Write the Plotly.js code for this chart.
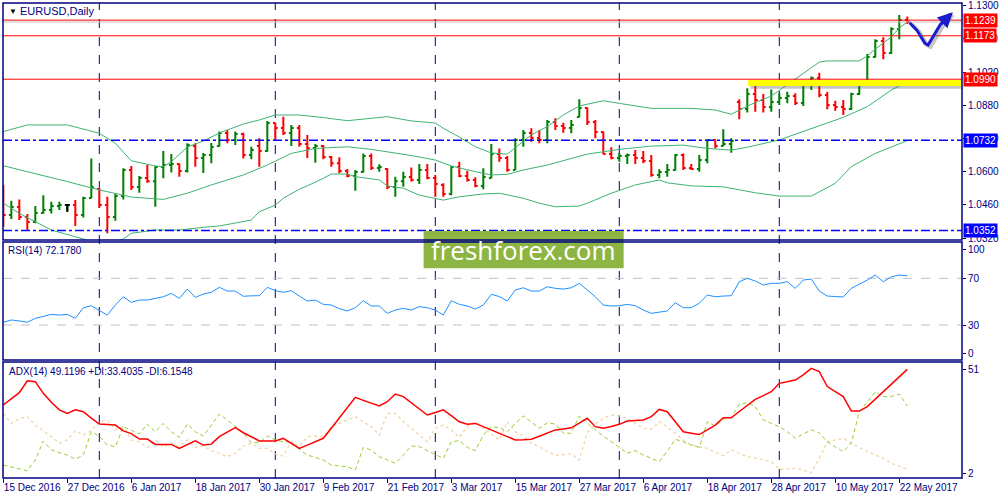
<!DOCTYPE html>
<html>
<head>
<meta charset="utf-8">
<script src="https://cdn.plot.ly/plotly-3.0.1.min.js"></script>
<style>
  body { margin: 0; background: #fff; }
  #chart { width: 1000px; height: 500px; }
</style>
</head>
<body>
<div id="chart"></div>
<script>
// EURUSD daily, 15 Dec 2016 .. 23 May 2017, one entry per bar
var open = [1.0501,1.0417,1.0451,1.0409,1.0388,1.0426,1.0438,1.0455,1.0459,1.0459,
  1.0417,1.0489,1.0527,1.0459,1.0409,1.0497,1.0607,1.0535,1.0573,1.0560,
  1.0620,1.0628,1.0632,1.0603,1.0708,1.0658,1.0670,1.0708,1.0763,1.0734,
  1.0759,1.0670,1.0708,1.0687,1.0805,1.0784,1.0763,1.0784,1.0717,1.0700,
  1.0708,1.0662,1.0636,1.0603,1.0582,1.0599,1.0666,1.0615,1.0611,1.0535,
  1.0560,1.0577,1.0565,1.0607,1.0573,1.0544,1.0506,1.0620,1.0582,1.0565,
  1.0540,1.0573,1.0674,1.0658,1.0607,1.0734,1.0763,1.0742,1.0734,1.0809,
  1.0793,1.0784,1.0831,1.0868,1.0809,1.0767,1.0674,1.0658,1.0666,1.0670,
  1.0658,1.0645,1.0586,1.0599,1.0607,1.0670,1.0615,1.0611,1.0649,1.0734,
  1.0708,1.0717,1.0894,1.0864,1.0928,1.0902,1.0873,1.0894,1.0911,1.0919,
  1.0890,1.0974,1.0995,1.0923,1.0881,1.0873,1.0864,1.0928,1.0978,1.1084,
  1.1151,1.1100,1.1202,1.1240];
var high = [1.0544,1.0477,1.0483,1.0421,1.0455,1.0501,1.0473,1.0473,1.0462,1.0480,
  1.0494,1.0656,1.0530,1.0494,1.0506,1.0614,1.0624,1.0582,1.0628,1.0624,
  1.0687,1.0674,1.0635,1.0720,1.0720,1.0679,1.0721,1.0769,1.0776,1.0769,
  1.0764,1.0705,1.0741,1.0814,1.0806,1.0832,1.0797,1.0797,1.0755,1.0717,
  1.0712,1.0666,1.0661,1.0611,1.0607,1.0677,1.0677,1.0631,1.0614,1.0579,
  1.0600,1.0618,1.0632,1.0632,1.0586,1.0551,1.0624,1.0642,1.0604,1.0576,
  1.0614,1.0717,1.0698,1.0666,1.0741,1.0776,1.0783,1.0776,1.0818,1.0825,
  1.0806,1.0818,1.0905,1.0871,1.0818,1.0769,1.0703,1.0680,1.0677,1.0691,
  1.0687,1.0670,1.0610,1.0632,1.0674,1.0677,1.0632,1.0670,1.0736,1.0736,
  1.0779,1.0741,1.0905,1.0952,1.0973,1.0928,1.0947,1.0931,1.0937,1.0931,
  1.0984,1.1001,1.1017,1.0937,1.0899,1.0902,1.0933,1.0987,1.1096,1.1158,
  1.1167,1.1209,1.1261,1.1254];
var low = [1.0368,1.0400,1.0396,1.0351,1.0382,1.0424,1.0424,1.0438,1.0431,1.0371,
  1.0407,1.0488,1.0448,1.0340,1.0393,1.0483,1.0523,1.0511,1.0553,1.0452,
  1.0572,1.0596,1.0579,1.0596,1.0621,1.0594,1.0636,1.0705,1.0720,1.0712,
  1.0656,1.0652,1.0621,1.0684,1.0731,1.0755,1.0708,1.0705,1.0658,1.0638,
  1.0652,1.0621,1.0593,1.0576,1.0520,1.0596,1.0607,1.0600,1.0526,1.0494,
  1.0536,1.0558,1.0548,1.0568,1.0494,1.0494,1.0501,1.0576,1.0558,1.0534,
  1.0526,1.0572,1.0642,1.0600,1.0607,1.0705,1.0726,1.0720,1.0720,1.0776,
  1.0764,1.0762,1.0829,1.0797,1.0741,1.0673,1.0652,1.0642,1.0632,1.0632,
  1.0635,1.0579,1.0572,1.0579,1.0604,1.0607,1.0607,1.0600,1.0635,1.0698,
  1.0708,1.0680,1.0821,1.0849,1.0853,1.0849,1.0853,1.0881,1.0888,1.0881,
  1.0877,1.0944,1.0914,1.0863,1.0857,1.0839,1.0860,1.0923,1.0975,1.1081,
  1.1074,1.1096,1.1158,1.1223];
var close = [1.0417,1.0451,1.0409,1.0388,1.0426,1.0438,1.0455,1.0459,1.0459,1.0417,
  1.0489,1.0535,1.0459,1.0409,1.0497,1.0607,1.0535,1.0573,1.0560,1.0620,
  1.0628,1.0632,1.0603,1.0712,1.0658,1.0670,1.0704,1.0763,1.0734,1.0759,
  1.0670,1.0691,1.0687,1.0805,1.0784,1.0763,1.0784,1.0717,1.0700,1.0708,
  1.0662,1.0636,1.0603,1.0582,1.0599,1.0666,1.0615,1.0620,1.0535,1.0560,
  1.0577,1.0565,1.0607,1.0573,1.0548,1.0506,1.0620,1.0582,1.0565,1.0540,
  1.0577,1.0674,1.0658,1.0607,1.0734,1.0763,1.0742,1.0734,1.0809,1.0793,
  1.0784,1.0797,1.0868,1.0809,1.0767,1.0674,1.0658,1.0666,1.0670,1.0658,
  1.0645,1.0586,1.0599,1.0607,1.0670,1.0615,1.0611,1.0649,1.0734,1.0708,
  1.0717,1.0729,1.0864,1.0928,1.0902,1.0873,1.0894,1.0911,1.0919,1.0890,
  1.0974,1.0995,1.0923,1.0881,1.0873,1.0864,1.0928,1.0978,1.1084,1.1151,
  1.1100,1.1202,1.1240,1.1231];

// Bollinger bands, read at the bars listed
var bbUpIdx = [0,3,8,10,12,14,16,19,20,21,23,25,27,30,32,34,37,40,43,46,48,51,54,55,57,
  59,61,63,65,66,68,70,72,75,77,81,86,89,91,93,96,99,102,103,107,108,109,111,112,113];
var bbUp = [1.0769,1.0797,1.0797,1.0779,1.0762,1.0720,1.0646,1.0624,1.0621,1.0642,
  1.0704,1.0729,1.0763,1.0801,1.0818,1.0839,1.0839,1.0828,1.0815,1.0825,
  1.0832,1.0814,1.0805,1.0783,1.0746,1.0705,1.0679,1.0674,1.0729,1.0755,
  1.0790,1.0839,1.0877,1.0899,1.0888,1.0867,1.0867,1.0860,1.0842,1.0877,
  1.0919,1.0991,1.1062,1.1067,1.1067,1.1088,1.1117,1.1168,1.1206,1.1231];
var bbMidIdx = [0,4,8,12,16,20,23,26,30,33,36,39,43,46,48,51,54,56,59,61,63,65,68,72,73,
  77,81,85,88,91,93,97,100,103,105,108,111,113];
var bbMid = [1.0625,1.0593,1.0558,1.0523,1.0493,1.0483,1.0509,1.0544,1.0586,1.0628,
  1.0677,1.0698,1.0705,1.0694,1.0684,1.0668,1.0649,1.0624,1.0600,1.0586,
  1.0589,1.0607,1.0628,1.0666,1.0674,1.0694,1.0708,1.0712,1.0698,1.0691,
  1.0703,1.0734,1.0769,1.0805,1.0829,1.0874,1.0944,1.0979];
var bbLowIdx = [0,2,4,6,10,12,15,16,19,22,25,27,31,32,34,35,37,38,40,41,43,44,47,48,50,
  52,55,57,60,62,65,67,69,72,73,76,79,82,83,86,90,94,97,101,104,106,109,111,113];
var bbLow = [1.0467,1.0424,1.0389,1.0354,1.0316,1.0286,1.0316,1.0340,1.0354,1.0354,
  1.0365,1.0371,1.0396,1.0431,1.0459,1.0488,1.0526,1.0540,1.0572,1.0590,
  1.0590,1.0579,1.0565,1.0540,1.0530,1.0501,1.0480,1.0494,1.0506,1.0509,
  1.0488,1.0467,1.0452,1.0455,1.0467,1.0509,1.0544,1.0565,1.0553,1.0540,
  1.0536,1.0511,1.0497,1.0497,1.0551,1.0621,1.0677,1.0705,1.0731];

var rsi = [32.3,34.3,33.5,32.3,35.7,37.1,39.1,38.5,39.1,35.7,
  44.8,46.5,42.8,38.5,47.1,54.2,49.4,51.4,51.4,52.5,
  54.2,57.1,52.8,60.8,53.7,56.5,58.0,62.3,59.1,59.1,
  54.6,55.0,55.1,62.3,59.4,58.0,59.4,54.8,50.5,51.4,
  47.7,47.1,44.0,42.0,44.8,50.8,46.3,46.3,40.0,42.8,
  44.3,42.8,45.7,44.8,42.8,38.5,50.8,47.7,46.3,43.7,
  47.1,56.3,54.4,50.5,60.0,61.9,59.1,59.1,62.8,61.4,
  60.8,61.9,65.7,60.0,54.2,47.1,46.3,46.5,47.7,46.5,
  42.8,40.0,41.1,42.0,49.1,44.8,44.8,48.6,55.7,54.2,
  54.8,55.1,67.1,70.0,67.7,64.2,65.7,65.7,67.1,61.4,
  68.5,69.4,59.1,54.8,54.4,54.0,61.4,64.8,68.5,72.8,
  67.1,71.3,72.8,72.2];

var adx = [33.8,36.5,39.1,44.2,43.8,38.8,35.0,31.7,30.2,31.7,
  30.9,28.2,25.6,25.4,25.2,22.7,21.5,19.2,19.2,16.9,
  16.9,16.9,15.2,16.8,18.4,16.6,17.0,20.2,22.2,24.1,
  21.9,20.2,18.4,18.4,18.4,19.5,17.4,15.2,16.6,18.0,
  19.5,23.8,28.1,32.6,37.1,35.8,34.5,33.4,35.2,38.5,
  37.4,34.8,32.1,29.5,30.6,31.7,29.2,26.6,25.5,25.9,
  24.5,23.1,21.9,20.3,18.8,18.9,19.1,20.4,21.7,23.1,
  23.5,24.0,26.0,28.1,24.5,23.8,24.6,25.5,26.9,27.1,
  27.4,28.8,31.9,30.9,26.6,22.3,21.7,21.1,23.1,25.2,
  28.3,28.3,31.0,33.6,36.2,37.8,39.5,43.1,43.8,44.5,
  46.7,49.5,48.1,41.7,39.5,37.4,31.2,31.2,33.1,36.3,
  39.5,42.7,45.9,49.1];
var plusDI = [8.0,7.1,6.3,5.6,10.2,18.3,14.5,13.5,12.3,10.6,
  12.3,22.3,20.5,16.6,15.9,24.5,23.1,21.4,25.6,22.3,
  25.9,22.3,19.9,25.6,22.3,20.5,25.2,29.9,27.4,24.5,
  21.9,17.6,17.6,20.5,18.8,18.0,18.0,14.8,12.3,11.3,
  10.2,8.0,7.6,7.3,5.9,15.6,14.5,11.6,10.2,8.8,
  12.3,16.2,15.9,14.3,12.8,10.9,18.0,18.5,15.6,14.2,
  20.9,24.5,24.1,22.3,25.9,29.1,26.5,23.8,26.2,25.6,
  21.7,21.7,29.1,25.9,23.0,20.5,18.0,15.6,13.1,14.2,
  12.3,10.9,9.5,14.0,19.1,18.0,16.6,15.6,26.6,24.8,
  27.7,28.5,34.2,34.8,33.1,27.4,26.1,24.5,22.3,19.5,
  21.4,23.1,21.9,18.0,15.8,13.8,17.4,30.9,35.0,39.5,
  37.4,37.4,38.5,33.4];
var minusDI = [30.2,25.9,28.0,28.8,25.2,22.8,20.2,17.4,18.8,22.8,
  20.9,22.8,26.6,27.4,23.1,24.5,18.8,18.0,15.6,18.8,
  15.9,17.4,15.9,18.8,15.6,16.2,14.2,13.1,11.6,13.1,
  16.2,17.4,15.2,15.2,12.8,11.9,18.0,15.9,20.2,20.5,
  20.2,24.5,25.9,27.3,28.8,26.6,24.5,20.9,30.2,30.2,
  26.6,23.8,20.9,18.0,23.8,25.2,23.1,19.9,24.5,26.6,
  23.8,21.4,18.8,26.6,22.3,20.5,17.4,15.8,13.8,12.3,
  12.6,12.8,10.2,22.0,25.5,28.1,29.5,29.1,28.1,26.0,
  23.8,23.4,26.6,24.5,21.8,18.8,16.6,15.8,15.2,13.5,
  12.0,14.5,13.0,11.6,11.0,10.2,9.5,6.2,6.3,6.6,
  5.9,4.7,10.9,18.0,18.8,19.5,17.4,15.5,13.8,12.3,
  10.9,8.8,7.5,6.15];

// x axis labels every 8 bars, monthly separators
var dateTickIdx = [0,8,16,24,32,40,48,56,64,72,80,88,96,104,112];
var dateTickText = ['15 Dec 2016','27 Dec 2016','6 Jan 2017','18 Jan 2017','30 Jan 2017',
  '9 Feb 2017','21 Feb 2017','3 Mar 2017','15 Mar 2017','27 Mar 2017','6 Apr 2017',
  '18 Apr 2017','28 Apr 2017','10 May 2017','22 May 2017'];
var monthStartIdx = [12,34,54,77,97];

var priceTicks = [1.0320,1.0460,1.0600,1.0740,1.0880,1.1020,1.1160,1.1300];
var redLevels = [1.1239,1.1173,1.0990];
var blueLevels = [1.0732,1.0352];
var rsiLevels = [70,30];
var rsiTickVals = [95.1,70,30,5.7];
var rsiTickText = ['100','70','30','0'];
var adxTickVals = [49.2,4.6];
var adxTickText = ['51','2'];

var NAVY = '#000080';
var FONT = 'Liberation Sans, Arial, sans-serif';
var idx = close.map(function(_, i){ return i; });
var dojiIdx = idx.filter(function(i){ return open[i] === close[i]; });
var pick = function(arr){ return dojiIdx.map(function(i){ return arr[i]; }); };

var traces = [];
function band(xs, ys){
  traces.push({type:'scatter', mode:'lines', x:xs, y:ys, xaxis:'x', yaxis:'y',
    line:{color:'#3cb371', width:1}, hoverinfo:'skip'});
}
band(bbUpIdx, bbUp);
band(bbMidIdx, bbMid);
band(bbLowIdx, bbLow);

traces.push({type:'ohlc', x:idx, open:open, high:high, low:low, close:close,
  xaxis:'x', yaxis:'y', tickwidth:0.3,
  increasing:{line:{color:'#008000', width:2}},
  decreasing:{line:{color:'#ff0000', width:2}}});
traces.push({type:'ohlc', x:dojiIdx, open:pick(open), high:pick(high), low:pick(low), close:pick(close),
  xaxis:'x', yaxis:'y', tickwidth:0.3,
  increasing:{line:{color:'#000000', width:2}},
  decreasing:{line:{color:'#000000', width:2}}});

traces.push({type:'scatter', mode:'lines', x:idx, y:rsi, xaxis:'x', yaxis:'y2',
  line:{color:'#1e90ff', width:1}});

traces.push({type:'scatter', mode:'lines', x:idx, y:minusDI, xaxis:'x', yaxis:'y3',
  line:{color:'#f2d5a6', width:1.3, dash:'dot'}});
traces.push({type:'scatter', mode:'lines', x:idx, y:plusDI, xaxis:'x', yaxis:'y3',
  line:{color:'#9acd32', width:1, dash:'4px,3px'}});
traces.push({type:'scatter', mode:'lines', x:idx, y:adx, xaxis:'x', yaxis:'y3',
  line:{color:'#ff0000', width:1.5}});

// panel geometry (paper fractions)
var dMain = [0.501, 1], dRsi = [0.2484, 0.4968], dAdx = [0, 0.2442];
var last = close.length - 1;

var shapes = [];
monthStartIdx.forEach(function(m){
  shapes.push({type:'line', xref:'x', yref:'paper', x0:m, x1:m, y0:0, y1:1, layer:'below',
    line:{color:NAVY, width:1, dash:'dash'}});
});
shapes.push({type:'line', xref:'paper', yref:'y', x0:0, x1:1, y0:close[last], y1:close[last],
  line:{color:'#c0c0c0', width:1}});
redLevels.forEach(function(v){
  shapes.push({type:'line', xref:'paper', yref:'y', x0:0, x1:1, y0:v, y1:v,
    line:{color:'#ff0000', width:1}});
});
blueLevels.forEach(function(v){
  shapes.push({type:'line', xref:'paper', yref:'y', x0:0, x1:1, y0:v, y1:v,
    line:{color:'#0000ff', width:1.5, dash:'dashdot'}});
});
rsiLevels.forEach(function(v){
  shapes.push({type:'line', xref:'paper', yref:'y2', x0:0, x1:1, y0:v, y1:v, layer:'below',
    line:{color:'#c0c0c0', width:1, dash:'dash'}});
});
// yellow marker stroke with its shadow
shapes.push({type:'line', xref:'x', yref:'y', x0:93.4, x1:119.9, y0:1.0960, y1:1.0960,
  line:{color:'rgba(90,90,90,0.35)', width:5}});
shapes.push({type:'line', xref:'x', yref:'y', x0:93.1, x1:119.84, y0:1.0974, y1:1.0974,
  line:{color:'#ffff00', width:6}});
// hand-drawn blue arrow
shapes.push({type:'path', xref:'x', yref:'y',
  path:'M 113.6,1.1220 L 114.5,1.1189 L 115.5,1.1133 L 115.9,1.1126 L 117.4,1.1211 L 118.7,1.1262',
  line:{color:'rgba(90,90,90,0.35)', width:4}});
shapes.push({type:'path', xref:'x', yref:'y',
  path:'M 113.3,1.1228 L 114.2,1.1197 L 115.2,1.1141 L 115.6,1.1134 L 117.1,1.1219 L 118.4,1.1266',
  line:{color:'#1c1ccf', width:3}});
// watermark box
shapes.push({type:'rect', xref:'paper', yref:'paper', x0:0.4386, x1:0.6472, y0:0.4415, y1:0.5200,
  fillcolor:'#8db543', line:{width:0}});
// panel frames
[dMain, dRsi, dAdx].forEach(function(d){
  shapes.push({type:'rect', xref:'paper', yref:'paper', x0:0, x1:1, y0:d[0], y1:d[1],
    line:{color:NAVY, width:1.5}});
});

var annotations = [
  {xref:'paper', yref:'paper', x:0.004, y:0.983, xanchor:'left', yanchor:'middle', showarrow:false,
    text:'▼', font:{family:FONT, size:8, color:'#000000'}},
  {xref:'paper', yref:'paper', x:0.0156, y:0.983, xanchor:'left', yanchor:'middle', showarrow:false,
    text:'EURUSD,Daily', font:{family:FONT, size:11, color:NAVY}},
  {xref:'paper', yref:'paper', x:0.003, y:0.478, xanchor:'left', yanchor:'middle', showarrow:false,
    text:'RSI(14) 72.1780', font:{family:FONT, size:10, color:NAVY}},
  {xref:'paper', yref:'paper', x:0.004, y:0.2232, xanchor:'left', yanchor:'middle', showarrow:false,
    text:'ADX(14) 49.1196 +DI:33.4035 -DI:6.1548', font:{family:FONT, size:10, color:NAVY}},
  {xref:'paper', yref:'paper', x:0.5428, y:0.481, xanchor:'center', yanchor:'middle', showarrow:false,
    text:'freshforex.com', font:{family:'Open Sans, sans-serif', size:26, color:'#ffffff'}},
  {xref:'x', yref:'y', x:118.7, y:1.1272, axref:'x', ayref:'y', ax:117.1, ay:1.1219,
    showarrow:true, arrowhead:2, arrowsize:1, arrowwidth:3, arrowcolor:'#1c1ccf', text:''}
];
redLevels.forEach(function(v){
  annotations.push({xref:'paper', yref:'y', x:1.001, y:v, xanchor:'left', yanchor:'middle',
    showarrow:false, text:v.toFixed(4), bgcolor:'#ff0000', borderpad:1,
    font:{family:FONT, size:10, color:'#ffffff'}});
});
blueLevels.forEach(function(v){
  annotations.push({xref:'paper', yref:'y', x:1.001, y:v, xanchor:'left', yanchor:'middle',
    showarrow:false, text:v.toFixed(4), bgcolor:'#0000ff', borderpad:1,
    font:{family:FONT, size:10, color:'#ffffff'}});
});

var yCommon = {side:'right', anchor:'x', showgrid:false, zeroline:false, showline:false,
  ticks:'outside', ticklen:3, tickcolor:NAVY, tickfont:{family:FONT, size:10, color:NAVY}, fixedrange:true};

var layout = {
  width:1000, height:500,
  margin:{l:3, r:38, t:3, b:22},
  paper_bgcolor:'#ffffff', plot_bgcolor:'#ffffff',
  showlegend:false,
  font:{family:FONT, size:10, color:NAVY},
  xaxis:{
    anchor:'y3', range:[-0.04, 119.84], showgrid:false, zeroline:false, showline:false,
    tickmode:'array', tickvals:dateTickIdx, ticktext:dateTickText, tickangle:0,
    ticks:'outside', ticklen:4, tickcolor:NAVY, ticklabelposition:'outside right',
    tickfont:{family:FONT, size:10, color:NAVY}, rangeslider:{visible:false}, fixedrange:true},
  yaxis:Object.assign({}, yCommon, {domain:dMain, range:[1.03117, 1.13113],
    tickmode:'array', tickvals:priceTicks, ticktext:priceTicks.map(function(v){ return v.toFixed(4); })}),
  yaxis2:Object.assign({}, yCommon, {domain:dRsi, range:[0, 101.1],
    tickmode:'array', tickvals:rsiTickVals, ticktext:rsiTickText}),
  yaxis3:Object.assign({}, yCommon, {domain:dAdx, range:[2.47, 52.25],
    tickmode:'array', tickvals:adxTickVals, ticktext:adxTickText}),
  shapes:shapes,
  annotations:annotations
};

Plotly.newPlot('chart', traces, layout, {displayModeBar:false, staticPlot:true});
</script>
</body>
</html>
